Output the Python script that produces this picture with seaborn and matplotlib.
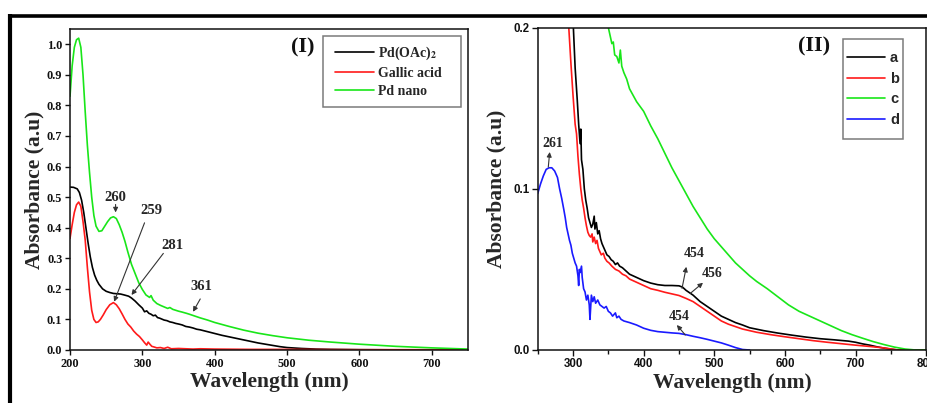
import matplotlib
matplotlib.use("Agg")
import matplotlib.pyplot as plt
from matplotlib.lines import Line2D
from matplotlib.patches import Rectangle
from matplotlib.font_manager import FontProperties
import seaborn as sns
import pandas as pd

# ---------------- Panel (I): precursor, reducing agent and Pd nanoparticles ----------------
wl_pdoac = [200, 205, 210, 213, 216, 219, 222, 225, 228, 231, 234, 237, 240, 245, 250, 255, 260,
            265, 270, 275, 281, 285, 290, 295, 300, 303, 306, 309, 312, 315, 318, 321, 324, 327,
            330, 334, 338, 342, 346, 350, 355, 360, 365, 370, 375, 380, 390, 400, 410, 420, 430,
            440, 450, 460, 470, 480, 490, 500, 520, 540, 560, 600, 650, 700, 750]
abs_pdoac = [0.533, 0.532, 0.527, 0.515, 0.49, 0.45, 0.40, 0.35, 0.305, 0.27, 0.245, 0.228, 0.215,
             0.20, 0.192, 0.188, 0.185, 0.184, 0.183, 0.18, 0.176, 0.17, 0.16, 0.148, 0.137, 0.125,
             0.128, 0.12, 0.117, 0.112, 0.114, 0.106, 0.104, 0.101, 0.098, 0.096, 0.092, 0.090,
             0.087, 0.085, 0.082, 0.077, 0.075, 0.072, 0.068, 0.066, 0.060, 0.054, 0.048, 0.043,
             0.038, 0.033, 0.028, 0.023, 0.019, 0.015, 0.011, 0.008, 0.005, 0.003, 0.002, 0.001,
             0.0005, 0.0, 0.0]

wl_gallic = [200, 203, 206, 209, 212, 215, 218, 221, 224, 227, 230, 233, 236, 239, 242, 246, 250,
             255, 260, 264, 268, 272, 276, 280, 284, 288, 292, 296, 300, 303, 306, 308, 310, 313,
             316, 320, 325, 330, 335, 340, 350, 360, 370, 380, 400, 450, 500, 600, 700, 750]
abs_gallic = [0.365, 0.41, 0.45, 0.475, 0.484, 0.47, 0.42, 0.36, 0.27, 0.19, 0.13, 0.10, 0.09,
              0.092, 0.10, 0.115, 0.132, 0.148, 0.155, 0.148, 0.135, 0.118, 0.10, 0.085, 0.075,
              0.062, 0.052, 0.044, 0.033, 0.024, 0.016, 0.026, 0.02, 0.012, 0.01, 0.007, 0.008,
              0.005, 0.009, 0.004, 0.005, 0.004, 0.003, 0.004, 0.003, 0.002, 0.002, 0.001, 0.001,
              0.001]

wl_pdnano = [200, 203, 206, 209, 212, 215, 218, 221, 224, 227, 230, 233, 236, 240, 244, 248, 252,
             256, 260, 264, 268, 272, 276, 280, 285, 290, 295, 300, 305, 310, 312, 315, 320, 325,
             330, 335, 338, 342, 346, 350, 355, 361, 365, 370, 380, 390, 400, 420, 440, 460, 480,
             500, 530, 560, 600, 650, 700, 750]
abs_pdnano = [0.83, 0.93, 0.99, 1.015, 1.02, 0.99, 0.90, 0.78, 0.67, 0.58, 0.50, 0.44, 0.405,
              0.388, 0.39, 0.405, 0.42, 0.432, 0.436, 0.43, 0.41, 0.385, 0.355, 0.32, 0.28, 0.25,
              0.22, 0.198, 0.18, 0.172, 0.178, 0.163, 0.152, 0.146, 0.141, 0.136, 0.139, 0.133,
              0.130, 0.127, 0.124, 0.120, 0.117, 0.113, 0.105, 0.098, 0.090, 0.077, 0.065, 0.055,
              0.047, 0.040, 0.032, 0.026, 0.019, 0.012, 0.007, 0.003]

labels_I = ["Pd(OAc)$_\\mathbf{2}$", "Gallic acid", "Pd nano"]
colors_I = ["#000000", "#ff1a1a", "#19e619"]

# ---------------- Panel (II): samples a-d, visible region ----------------
wl_a = [290, 295, 300, 303, 306, 308, 310, 311, 312, 314, 316, 318, 320, 322, 324, 326, 328, 330,
        331, 333, 335, 337, 339, 341, 343, 345, 348, 351, 354, 357, 360, 363, 366, 370, 375, 380,
        385, 390, 395, 400, 410, 420, 430, 440, 450, 455, 460, 470, 480, 490, 500, 510, 520, 530,
        540, 550, 570, 590, 610, 630, 650, 670, 690, 700, 710, 720, 730, 740, 750, 760, 800]
abs_a = [0.32, 0.26, 0.205, 0.175, 0.155, 0.14, 0.128, 0.137, 0.118, 0.112, 0.10, 0.093, 0.088,
         0.082, 0.079, 0.076, 0.078, 0.083, 0.075, 0.079, 0.072, 0.074, 0.069, 0.066, 0.064,
         0.062, 0.059, 0.058, 0.056, 0.055, 0.053, 0.054, 0.052, 0.051, 0.049, 0.047, 0.046,
         0.045, 0.044, 0.043, 0.0415, 0.0405, 0.040, 0.040, 0.0398, 0.039, 0.037, 0.034, 0.030,
         0.027, 0.024, 0.021, 0.019, 0.017, 0.0155, 0.0138, 0.012, 0.0105, 0.0092, 0.008, 0.007,
         0.0063, 0.0055, 0.0048, 0.0038, 0.003, 0.002, 0.0012, 0.0005, 0.0, 0.0]

wl_b = [285, 290, 294, 297, 300, 303, 305, 307, 309, 311, 313, 315, 317, 319, 321, 323, 325, 327,
        328, 330, 332, 334, 336, 338, 340, 343, 345, 348, 351, 355, 360, 365, 370, 375, 380, 390,
        400, 410, 420, 430, 440, 450, 460, 470, 480, 490, 500, 510, 520, 530, 540, 560, 580, 600,
        620, 640, 660, 680, 700, 720, 740, 760, 800]
abs_b = [0.30, 0.24, 0.20, 0.178, 0.158, 0.14, 0.134, 0.12, 0.109, 0.10, 0.093, 0.088, 0.082,
         0.077, 0.073, 0.071, 0.070, 0.072, 0.067, 0.070, 0.066, 0.068, 0.063, 0.061, 0.059,
         0.060, 0.057, 0.055, 0.054, 0.052, 0.050, 0.049, 0.047, 0.046, 0.044, 0.042, 0.040,
         0.038, 0.037, 0.0358, 0.0348, 0.0338, 0.032, 0.030, 0.027, 0.024, 0.021, 0.018, 0.016,
         0.0145, 0.013, 0.011, 0.0095, 0.0082, 0.007, 0.0058, 0.0048, 0.0039, 0.003, 0.0022,
         0.0013, 0.0, 0.0]

wl_c = [340, 345, 350, 353, 355, 357, 359, 362, 365, 367, 369, 372, 376, 380, 390, 400, 410, 420,
        430, 440, 450, 460, 470, 480, 490, 500, 510, 520, 530, 540, 550, 560, 575, 590, 605, 620,
        635, 650, 665, 680, 695, 710, 725, 740, 755, 770, 785, 800]
abs_c = [0.225, 0.212, 0.20, 0.194, 0.19, 0.191, 0.183, 0.182, 0.178, 0.186, 0.176, 0.172, 0.168,
         0.162, 0.154, 0.148, 0.139, 0.131, 0.122, 0.113, 0.105, 0.097, 0.089, 0.082, 0.075,
         0.069, 0.064, 0.059, 0.054, 0.050, 0.046, 0.0425, 0.038, 0.033, 0.028, 0.024, 0.021,
         0.018, 0.015, 0.012, 0.0095, 0.0073, 0.0052, 0.0034, 0.0018, 0.0006, 0.0, 0.0]

wl_d = [250, 254, 258, 262, 266, 270, 274, 278, 281, 284, 287, 289, 291, 293, 295, 297, 299, 301,
        303, 305, 307, 308, 309, 310, 312, 313, 315, 317, 319, 321, 323, 324, 326, 328, 330, 332,
        335, 338, 341, 344, 347, 350, 353, 356, 358, 360, 362, 365, 368, 372, 376, 380, 390, 400,
        410, 420, 430, 440, 450, 460, 470, 480, 490, 500, 510, 520, 530, 540, 550]
abs_d = [0.097, 0.103, 0.108, 0.112, 0.113, 0.113, 0.111, 0.107, 0.100, 0.094, 0.087, 0.082,
         0.076, 0.072, 0.068, 0.065, 0.060, 0.057, 0.054, 0.052, 0.046, 0.040, 0.050, 0.048,
         0.052, 0.045, 0.038, 0.036, 0.031, 0.034, 0.028, 0.019, 0.034, 0.030, 0.033, 0.029,
         0.031, 0.028, 0.027, 0.026, 0.027, 0.024, 0.023, 0.021, 0.022, 0.023, 0.020, 0.021,
         0.019, 0.018, 0.0175, 0.017, 0.0155, 0.0135, 0.0122, 0.0114, 0.011, 0.0106, 0.0103,
         0.0095, 0.0085, 0.0076, 0.0066, 0.0055, 0.0044, 0.003, 0.0015, 0.0003, 0.0]

labels_II = ["a", "b", "c", "d"]
colors_II = ["#000000", "#ff1a1a", "#19e619", "#1a1aff"]

# ---------------- styling ----------------
sns.set_theme(style="ticks")
plt.rcParams["font.family"] = ["Liberation Serif", "DejaVu Serif"]
plt.rcParams["mathtext.fontset"] = "stix"
plt.rcParams["axes.linewidth"] = 1.1

serif_bold = dict(family="Liberation Serif", weight="bold")
sans_bold = dict(family="Liberation Sans", weight="bold")

W, H = 928, 403
fig = plt.figure(figsize=(W / 100, H / 100), dpi=100)
fig.patch.set_facecolor("white")

# axes boxes in pixels: left, top, right, bottom
L_box = (70, 29, 468, 350)
R_box = (537.7, 27.5, 926.2, 350)


def add_axes_px(box):
    x0, y0, x1, y1 = box
    return fig.add_axes([x0 / W, 1 - y1 / H, (x1 - x0) / W, (y1 - y0) / H])


def px_to_axes(box, x, y):
    x0, y0, x1, y1 = box
    return (x - x0) / (x1 - x0), (y1 - y) / (y1 - y0)


axL = add_axes_px(L_box)
axR = add_axes_px(R_box)

arrow_kw = dict(arrowstyle="-|>", lw=0.8, color="#333333", mutation_scale=7,
                shrinkA=0, shrinkB=0)


def legend_frame(ax, box, left, top, right, bottom):
    (ax0, ay1) = px_to_axes(box, left, top)
    (ax1, ay0) = px_to_axes(box, right, bottom)
    ax.add_patch(Rectangle((ax0, ay0), ax1 - ax0, ay1 - ay0, transform=ax.transAxes,
                           facecolor="white", edgecolor="#7a7a7a", lw=1.1, zorder=4))


# ----- panel (I) -----
for wl, ab, lab, col in zip([wl_pdoac, wl_gallic, wl_pdnano],
                            [abs_pdoac, abs_gallic, abs_pdnano], labels_I, colors_I):
    df = pd.DataFrame({"Wavelength": wl, "Absorbance": ab})
    sns.lineplot(data=df, x="Wavelength", y="Absorbance", color=col, lw=1.2,
                 label=lab, ax=axL, sort=False)

axL.set_xlim(200, 750)
axL.set_ylim(0, 1.05)
axL.set_xticks([200, 300, 400, 500, 600, 700])
axL.set_yticks([i / 10 for i in range(11)])
axL.set_yticklabels([f"{i / 10:.1f}" for i in range(11)])
axL.tick_params(direction="out", length=3.5, width=1.0, pad=2, colors="#111111")
for lbl in axL.get_xticklabels() + axL.get_yticklabels():
    lbl.set_fontproperties(FontProperties(size=8.8, **serif_bold))
axL.set_xlabel("Wavelength (nm)", fontsize=15.5, labelpad=2, **serif_bold)
axL.set_ylabel("Absorbance (a.u)", fontsize=15.5, labelpad=2, **serif_bold)
for s in axL.spines.values():
    s.set_color("#111111")

legend_frame(axL, L_box, 323, 35.7, 461, 107.3)
legL = axL.legend(loc="center left", bbox_to_anchor=px_to_axes(L_box, 335, 71.5), frameon=False,
                  borderpad=0, borderaxespad=0, handlelength=2.8, handletextpad=0.3,
                  labelspacing=0.36, prop=FontProperties(size=10, **serif_bold))
legL.set_zorder(5)

axL.text(522, 0.99, "(I)", fontsize=16, ha="center", va="center", color="#111111", **serif_bold)

axL.annotate("", xy=(263, 0.45), xytext=(263, 0.476), arrowprops=arrow_kw)
axL.text(262, 0.50, "260", fontsize=10.5, ha="center", va="center", **serif_bold)
axL.annotate("", xy=(261, 0.158), xytext=(303, 0.416), arrowprops=arrow_kw)
axL.text(313, 0.455, "259", fontsize=10.5, ha="center", va="center", **serif_bold)
axL.annotate("", xy=(285, 0.18), xytext=(329, 0.316), arrowprops=arrow_kw)
axL.text(342, 0.343, "281", fontsize=10.5, ha="center", va="center", **serif_bold)
axL.annotate("", xy=(370, 0.125), xytext=(380, 0.167), arrowprops=arrow_kw)
axL.text(382, 0.207, "361", fontsize=10.5, ha="center", va="center", **serif_bold)

# ----- panel (II) -----
for wl, ab, lab, col in zip([wl_a, wl_b, wl_c, wl_d], [abs_a, abs_b, abs_c, abs_d],
                            labels_II, colors_II):
    df = pd.DataFrame({"Wavelength": wl, "Absorbance": ab})
    sns.lineplot(data=df, x="Wavelength", y="Absorbance", color=col, lw=1.2,
                 label=lab, ax=axR, sort=False)

axR.set_xlim(250, 800)
axR.set_ylim(0, 0.2)
axR.set_xticks([300, 400, 500, 600, 700, 800])
axR.set_xticks([250, 350, 450, 550, 650, 750], minor=True)
axR.set_yticks([0.0, 0.1, 0.2])
axR.set_yticklabels(["0.0", "0.1", "0.2"])
axR.tick_params(which="major", direction="out", length=4, width=1.0, pad=2, colors="#111111")
axR.tick_params(which="minor", direction="out", length=3, width=1.0, colors="#111111")
for lbl in axR.get_xticklabels() + axR.get_yticklabels():
    lbl.set_fontproperties(FontProperties(size=8.3, **sans_bold))
axR.set_xlabel("Wavelength (nm)", fontsize=15.5, labelpad=2, **serif_bold)
axR.set_ylabel("Absorbance (a.u)", fontsize=15.5, labelpad=5, **serif_bold)
for s in axR.spines.values():
    s.set_color("#111111")

legend_frame(axR, R_box, 842.7, 39.3, 902.7, 139)
legR = axR.legend(loc="center left", bbox_to_anchor=px_to_axes(R_box, 847, 89.2), frameon=False,
                  borderpad=0, borderaxespad=0, handlelength=2.6, handletextpad=0.35,
                  labelspacing=0.45, prop=FontProperties(size=10.5, **sans_bold))
legR.set_zorder(5)

axR.text(641, 0.188, "(II)", fontsize=16, ha="center", va="center", color="#111111", **serif_bold)

axR.annotate("", xy=(267, 0.1228), xytext=(265, 0.1135), arrowprops=arrow_kw)
axR.text(271, 0.128, "261", fontsize=10, ha="center", va="center", **serif_bold)
axR.annotate("", xy=(460.4, 0.0516), xytext=(454.3, 0.0382), arrowprops=arrow_kw)
axR.text(471, 0.0599, "454", fontsize=10, ha="center", va="center", **serif_bold)
axR.annotate("", xy=(484, 0.0417), xytext=(466, 0.0351), arrowprops=arrow_kw)
axR.text(497, 0.0475, "456", fontsize=10, ha="center", va="center", **serif_bold)
axR.annotate("", xy=(447, 0.0155), xytext=(459, 0.0093), arrowprops=arrow_kw)
axR.text(450, 0.0206, "454", fontsize=10, ha="center", va="center", **serif_bold)

# heavy frame along the top and left edge of the figure
fig.add_artist(Line2D([8 / W, 1.0], [1 - 15.5 / H, 1 - 15.5 / H], color="black", lw=2.6,
                      transform=fig.transFigure, solid_capstyle="butt"))
fig.add_artist(Line2D([10 / W, 10 / W], [0.0, 1 - 14 / H], color="black", lw=3.0,
                      transform=fig.transFigure, solid_capstyle="butt"))

fig.savefig("out.png", dpi=100, facecolor="white")
